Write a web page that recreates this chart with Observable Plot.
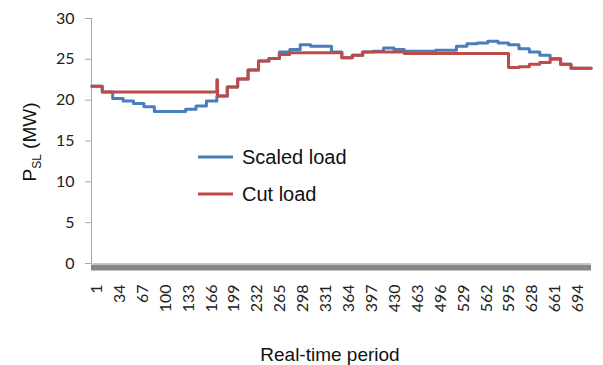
<!DOCTYPE html>
<html>
<head>
<meta charset="utf-8">
<script src="https://cdn.jsdelivr.net/npm/d3@7"></script>
<script src="https://cdn.jsdelivr.net/npm/@observablehq/plot@0.6"></script>
<style>
  html, body { margin: 0; padding: 0; background: #fff; }
  #chart { position: relative; width: 603px; height: 365px; }
</style>
</head>
<body>
<div id="chart"></div>
<script>
// Block start periods (15-period blocks over 720 real-time periods); last entry is the end.
const blockStarts = [1,16,31,46,61,76,91,106,121,136,151,166,181,196,211,226,241,256,271,286,
  301,316,331,346,361,376,391,406,421,436,451,466,481,496,511,526,541,556,571,586,
  601,616,631,646,661,676,691,706,720];

// Scaled load (MW), one value per block (final entry repeats the last block for the end point)
const scaledLoad = [21.7,21.0,20.2,19.9,19.6,19.2,18.6,18.6,18.6,18.9,19.3,19.9,20.5,21.6,22.6,23.7,24.8,25.1,25.9,26.2,
  26.8,26.6,26.6,25.9,25.2,25.5,25.9,26.0,26.4,26.2,26.0,26.0,26.0,26.1,26.1,26.6,26.9,27.0,27.2,27.0,
  26.8,26.3,25.9,25.5,25.1,24.4,23.9,23.9,23.9];

// Cut load (MW), one value per block
const cutLoad = [21.7,21.0,21.0,21.0,21.0,21.0,21.0,21.0,21.0,21.0,21.0,21.0,20.5,21.6,22.6,23.7,24.8,25.1,25.6,25.8,
  25.8,25.8,25.8,25.8,25.2,25.5,25.9,25.9,25.9,25.9,25.7,25.7,25.7,25.7,25.7,25.7,25.7,25.7,25.7,25.7,
  24.0,24.1,24.4,24.6,25.0,24.4,23.9,23.9,23.9];

// Short spike in the cut load at the start of block 12
const cutSpikePeriod = 181;
const cutSpikeValue = 22.5;

const xTickLabels = [1,34,67,100,133,166,199,232,265,298,331,364,397,430,463,496,529,562,595,628,661,694];
const yTicks = [0,5,10,15,20,25,30];

const scaledData = blockStarts.map((p, i) => ({period: p, value: scaledLoad[i]}));
const cutData = [];
blockStarts.forEach((p, i) => {
  if (p === cutSpikePeriod) {
    cutData.push({period: p, value: cutSpikeValue});
    cutData.push({period: p + 1, value: cutLoad[i]});
  } else {
    cutData.push({period: p, value: cutLoad[i]});
  }
});

const BLUE = "#4a7ebb";
const RED = "#be4b48";

const plot = Plot.plot({
  width: 603,
  height: 365,
  marginLeft: 91,
  marginRight: 12,
  marginTop: 18,
  marginBottom: 102,
  style: {fontFamily: "Lato, sans-serif", background: "#fff", overflow: "visible"},
  x: {domain: [0.5, 720.5]},
  y: {domain: [0, 30]},
  marks: [
    Plot.frame({anchor: "left", stroke: "#a6a6a6"}),
    Plot.ruleY([0], {stroke: "#c8c8c8", strokeWidth: 1}),
    Plot.ruleY([0], {stroke: "#878787", strokeWidth: 6, dy: 4}),
    Plot.axisY({ticks: yTicks, tickSize: 6, tickPadding: 11, stroke: "#a6a6a6",
      fill: "#222", label: null}),
    Plot.axisX({ticks: xTickLabels, tickSize: 0, tickPadding: 21, tickRotate: -90,
      fill: "#222", label: null, dx: 5}),
    Plot.line(scaledData, {x: "period", y: "value", curve: "step-after", stroke: BLUE, strokeWidth: 3}),
    Plot.line(cutData, {x: "period", y: "value", curve: "step-after", stroke: RED, strokeWidth: 3})
  ]
});

document.getElementById("chart").appendChild(plot);

const svg = d3.select(plot);
const yTickSet = new Set(yTicks.map(String));
const xTickSet = new Set(xTickLabels.map(String));
svg.selectAll("text").each(function() {
  const t = this.textContent.trim();
  const g = this.closest("g");
  const lab = g ? (g.getAttribute("aria-label") || "") : "";
  if (lab.startsWith("y-axis") && yTickSet.has(t)) {
    this.style.setProperty("font-size", "16px", "important");
  } else if (lab.startsWith("x-axis") && xTickSet.has(t)) {
    this.style.setProperty("font-size", "16px", "important");
  }
});

const textFont = "'Liberation Sans', Arial, sans-serif";

// Y-axis title with subscript
const yt = svg.append("text")
  .attr("transform", "translate(36,142) rotate(-90)")
  .attr("text-anchor", "middle")
  .attr("font-family", textFont)
  .style("font-size", "19px")
  .attr("fill", "#111");
yt.append("tspan").text("P");
yt.append("tspan").style("font-size", "12px").attr("dy", 5).text("SL");
yt.append("tspan").attr("dy", -5).text(" (MW)");

// X-axis title
svg.append("text")
  .attr("x", 330).attr("y", 361)
  .attr("text-anchor", "middle")
  .attr("font-family", textFont)
  .style("font-size", "19px")
  .attr("fill", "#111")
  .text("Real-time period");

// Legend
const legend = [
  {label: "Scaled load", color: BLUE, y: 157},
  {label: "Cut load", color: RED, y: 194}
];
legend.forEach(d => {
  svg.append("line")
    .attr("x1", 198).attr("x2", 233).attr("y1", d.y).attr("y2", d.y)
    .attr("stroke", d.color).attr("stroke-width", 3);
  svg.append("text")
    .attr("x", 242).attr("y", d.y + 7)
    .attr("text-anchor", "start")
    .attr("font-family", textFont)
    .style("font-size", "20px")
    .attr("fill", "#111")
    .text(d.label);
});
</script>
</body>
</html>
